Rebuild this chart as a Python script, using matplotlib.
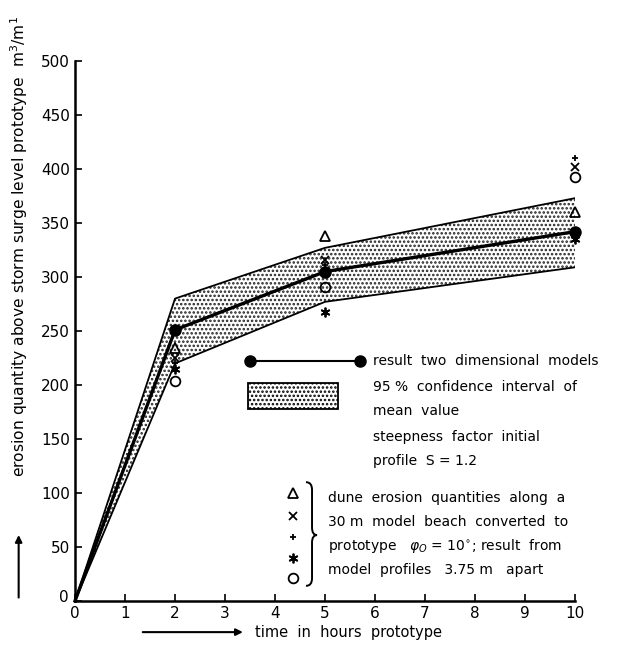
import matplotlib.pyplot as plt
from matplotlib.path import Path
from matplotlib.patches import PathPatch

plt.rcParams['font.family'] = 'DejaVu Sans'
plt.rcParams['hatch.linewidth'] = 1.2
plt.rcParams['hatch.color'] = 'black'

# time in hours and erosion quantities (m3/m1)
times = [0, 2, 5, 10]
mean_vals = [0, 251, 305, 342]
upper_ci = [0, 280, 327, 373]
lower_ci = [0, 220, 277, 309]

# individual profiles at t = 2, 5, 10
t_pts = [2, 5, 10]
triangle_vals = [234, 338, 360]
cross_vals = [225, 316, 402]
plus_vals = [220, 311, 410]
star_vals = [215, 268, 335]
circle_vals = [204, 291, 393]

fig = plt.figure(figsize=(6.22, 6.49), dpi=100)
ax = fig.add_axes([0.1206, 0.074, 0.8039, 0.832])

# confidence band
ax.fill_between(times, lower_ci, upper_ci, facecolor='white', hatch='....',
                edgecolor='#222222', linewidth=0)
ax.plot(times, upper_ci, color='black', lw=1.3)
ax.plot(times, lower_ci, color='black', lw=1.3)
ax.plot(times, mean_vals, color='black', lw=2.4, marker='o', markersize=8,
        markevery=[1, 2, 3], clip_on=False, zorder=5)

# single profile markers
ms = 7
ax.plot(t_pts, triangle_vals, ls='none', marker='^', mfc='none', mec='black', ms=ms, mew=1.3, clip_on=False)
ax.plot(t_pts, cross_vals, ls='none', marker='x', color='black', ms=ms - 1, mew=1.3, clip_on=False)
ax.plot(t_pts, plus_vals, ls='none', marker='+', color='black', ms=4, mew=1.3, clip_on=False)
ax.plot(t_pts, star_vals, ls='none', marker=(6, 2, 0), color='black', ms=ms, mew=1.3, clip_on=False)
ax.plot(t_pts, circle_vals, ls='none', marker='o', mfc='none', mec='black', ms=ms, mew=1.3, clip_on=False)

# legend drawn inside the plot
ax.plot([3.5, 5.7], [222, 222], color='black', lw=1.5, marker='o', ms=8)
ax.text(5.95, 222, 'result  two  dimensional  models', va='center', fontsize=10)
ax.add_patch(plt.Rectangle((3.45, 178), 1.8, 24, facecolor='white', hatch='....',
                           edgecolor='black', lw=1.3))
ax.text(5.95, 198, '95 %  confidence  interval  of', va='center', fontsize=10)
ax.text(5.95, 176, 'mean  value', va='center', fontsize=10)
ax.text(5.95, 152, 'steepness  factor  initial', va='center', fontsize=10)
ax.text(5.95, 130, 'profile  S = 1.2', va='center', fontsize=10)

lx = 4.35
ax.plot(lx, 100, marker='^', mfc='none', mec='black', ms=ms, mew=1.3)
ax.plot(lx, 79, marker='x', color='black', ms=ms - 1, mew=1.3)
ax.plot(lx, 59, marker='+', color='black', ms=4, mew=1.3)
ax.plot(lx, 40, marker=(6, 2, 0), color='black', ms=ms, mew=1.3)
ax.plot(lx, 21, marker='o', mfc='none', mec='black', ms=ms, mew=1.3)

# brace
x0, x1, x2 = 4.62, 4.74, 4.84
yt, ym, yb = 110, 61, 14
verts = [(x0, yt), (x1, yt), (x1, yt - 7), (x1, ym + 7), (x1, ym), (x2, ym),
         (x1, ym), (x1, ym - 7), (x1, yb + 7), (x1, yb), (x0, yb)]
codes = [Path.MOVETO, Path.CURVE3, Path.CURVE3, Path.LINETO, Path.CURVE3, Path.CURVE3,
         Path.CURVE3, Path.CURVE3, Path.LINETO, Path.CURVE3, Path.CURVE3]
ax.add_patch(PathPatch(Path(verts, codes), fill=False, lw=1.4, edgecolor='black'))

ax.text(5.05, 95, 'dune  erosion  quantities  along  a', va='center', fontsize=10)
ax.text(5.05, 73, '30 m  model  beach  converted  to', va='center', fontsize=10)
ax.text(5.05, 51, r'prototype   $\varphi_O$ = 10$^{\circ}$; result  from', va='center', fontsize=10)
ax.text(5.05, 29, 'model  profiles   3.75 m   apart', va='center', fontsize=10)

ax.set_xlim(0, 10)
ax.set_ylim(0, 500)
ax.set_xticks(range(0, 11))
ax.set_yticks(range(0, 501, 50))
ax.set_yticklabels([''] + [str(v) for v in range(50, 501, 50)])
ax.tick_params(direction='in', length=5, width=1.2, labelsize=11)
ax.spines['top'].set_visible(False)
ax.spines['right'].set_visible(False)
ax.spines['left'].set_linewidth(1.8)
ax.spines['bottom'].set_linewidth(1.8)
ax.text(-0.12, 3, '0', ha='right', va='center', fontsize=11)

# axis titles with arrows
fig.text(0.03, 0.62, 'erosion quantity above storm surge level prototype  m$^3$/m$^1$',
         rotation=90, ha='center', va='center', fontsize=11.2)
fig.add_artist(plt.Annotation('', xy=(0.03, 0.18), xytext=(0.03, 0.075), xycoords='figure fraction',
                              arrowprops=dict(arrowstyle='-|>', color='black', lw=1.5)))
fig.add_artist(plt.Annotation('', xy=(0.395, 0.026), xytext=(0.225, 0.026), xycoords='figure fraction',
                              arrowprops=dict(arrowstyle='-|>', color='black', lw=1.5)))
fig.text(0.41, 0.026, 'time  in  hours  prototype', va='center', fontsize=10.5)

fig.savefig('out.png', dpi=100)
